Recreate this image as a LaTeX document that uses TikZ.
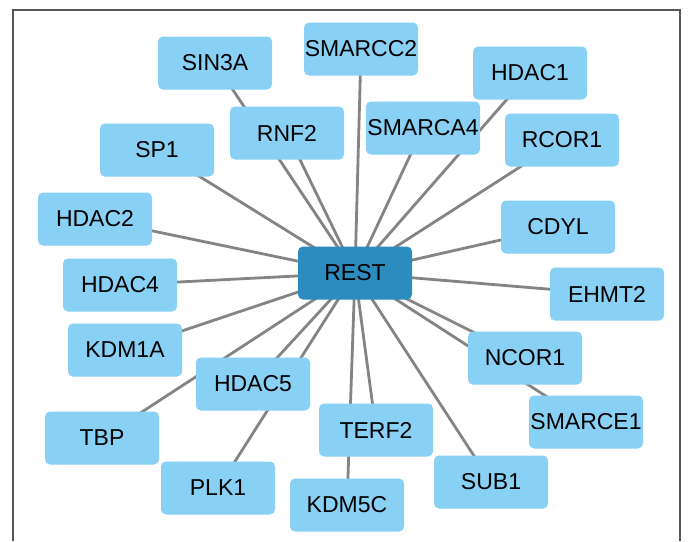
\documentclass[tikz,border=0pt]{standalone}
\usepackage{fontspec}
\setmainfont{Liberation Sans}
\usetikzlibrary{backgrounds}
\definecolor{nodeblue}{RGB}{137,208,245}
\definecolor{restblue}{RGB}{44,139,191}
\definecolor{edgegray}{RGB}{132,132,132}
\definecolor{framegray}{RGB}{85,85,85}
\tikzset{
  gene/.style={rectangle, rounded corners=5pt, fill=nodeblue, minimum width=114pt, minimum height=53pt, inner sep=0pt, font=\fontsize{23}{26}\selectfont, text=black},
  hub/.style={gene, fill=restblue},
  link/.style={draw=edgegray, line width=2.8pt},
}
\begin{document}
\begin{tikzpicture}[x=1pt,y=-1pt]
\useasboundingbox (0,0) rectangle (690,541);
\draw[framegray, line width=1.5pt] (13,541) -- (13,10) -- (680,10) -- (680,541);
\node[hub] (rest) at (355,273) {REST};
\node[gene] (sin3a) at (215,63) {SIN3A};
\node[gene] (smarcc2) at (361,49) {SMARCC2};
\node[gene] (rnf2) at (287,133) {RNF2};
\node[gene] (smarca4) at (423,128) {SMARCA4};
\node[gene] (hdac1) at (530,73) {HDAC1};
\node[gene] (rcor1) at (562,140) {RCOR1};
\node[gene] (cdyl) at (558,227) {CDYL};
\node[gene] (ehmt2) at (607,294) {EHMT2};
\node[gene] (ncor1) at (525,358) {NCOR1};
\node[gene] (smarce1) at (586,422) {SMARCE1};
\node[gene] (sub1) at (491,482) {SUB1};
\node[gene] (terf2) at (376,430) {TERF2};
\node[gene] (kdm5c) at (347,505) {KDM5C};
\node[gene] (hdac5) at (253,384) {HDAC5};
\node[gene] (plk1) at (218,488) {PLK1};
\node[gene] (tbp) at (102,438) {TBP};
\node[gene] (kdm1a) at (125,350) {KDM1A};
\node[gene] (hdac4) at (120,285) {HDAC4};
\node[gene] (hdac2) at (95,219) {HDAC2};
\node[gene] (sp1) at (157,150) {SP1};
\begin{scope}[on background layer]
\foreach \n in {sin3a,smarcc2,rnf2,smarca4,hdac1,rcor1,cdyl,ehmt2,ncor1,smarce1,sub1,terf2,kdm5c,hdac5,plk1,tbp,kdm1a,hdac4,hdac2,sp1}
  \draw[link] (rest.center) -- (\n.center);
\end{scope}
\end{tikzpicture}
\end{document}
